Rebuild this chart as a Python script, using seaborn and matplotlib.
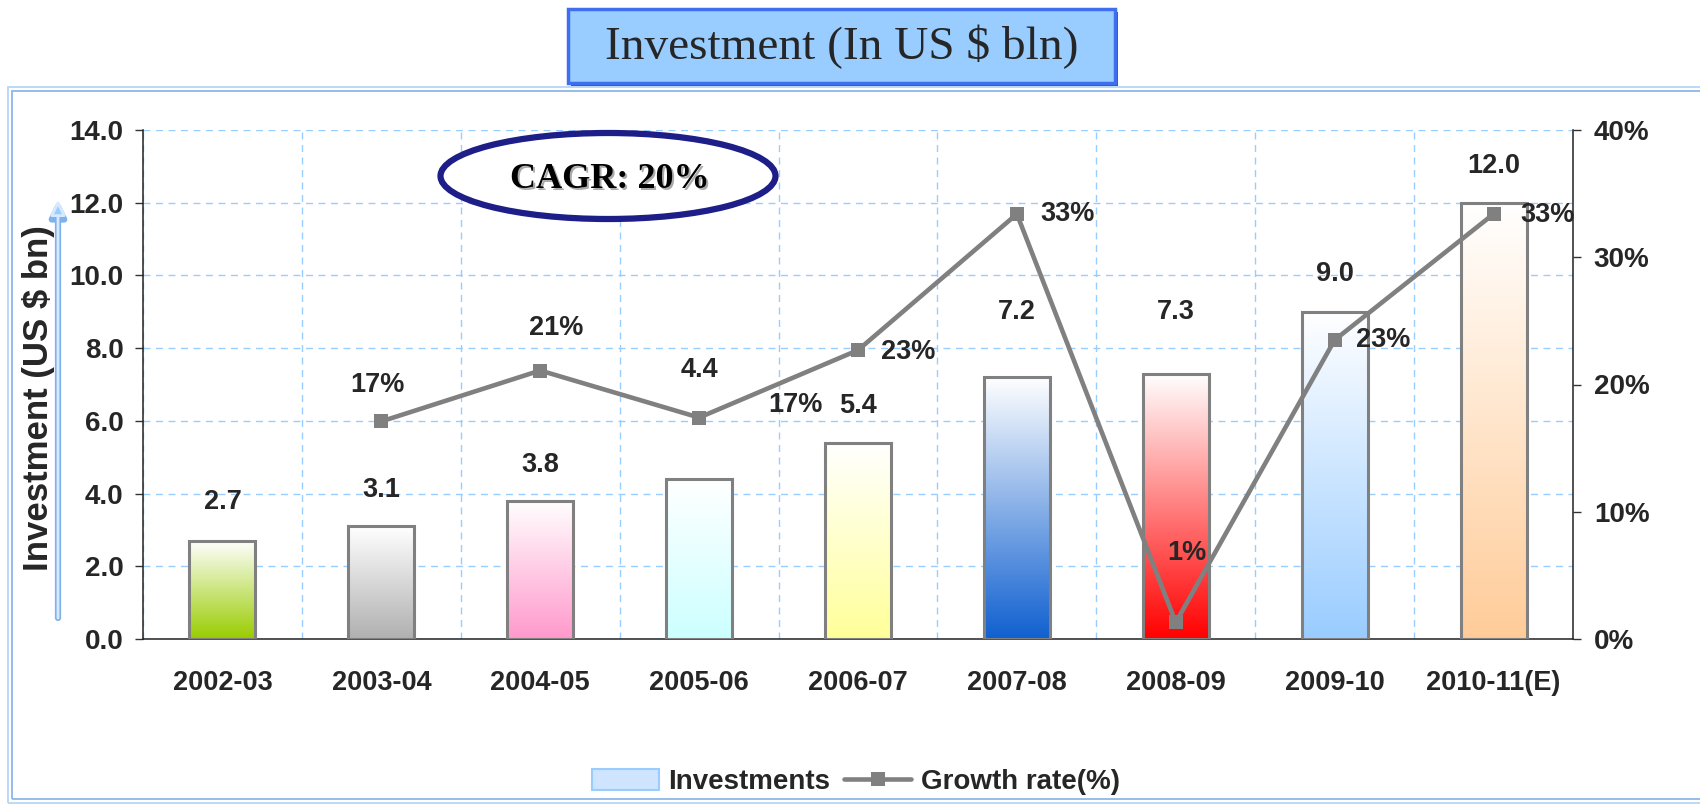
import matplotlib as mpl
mpl.use('agg')
import matplotlib.pyplot as plt
import matplotlib.patches as mpatches
from matplotlib.lines import Line2D
from matplotlib.colors import to_rgb
import numpy as np
import seaborn as sns

# data
years = ['2002-03', '2003-04', '2004-05', '2005-06', '2006-07',
         '2007-08', '2008-09', '2009-10', '2010-11(E)']
investment = [2.7, 3.1, 3.8, 4.4, 5.4, 7.2, 7.3, 9.0, 12.0]
growth_years = ['2003-04', '2004-05', '2005-06', '2006-07',
                '2007-08', '2008-09', '2009-10', '2010-11(E)']
growth = [17.1, 21.1, 17.4, 22.7, 33.4, 1.3, 23.5, 33.4]
growth_labels = ['17%', '21%', '17%', '23%', '33%', '1%', '23%', '33%']
bar_colors = ['#99cc00', '#b0b0b0', '#ff99cc', '#ccffff', '#ffff99',
              '#1060d0', '#ff0000', '#99ccff', '#ffcc99']
left_ticks = [0, 2, 4, 6, 8, 10, 12, 14]
right_ticks = [0, 10, 20, 30, 40]

# label offsets in pixels (dx, dy)
bar_label_dy = [39, 36, 36, 109, 37, 65, 62, 38, 37]
growth_label_off = [(-4, 36), (16, 43), (96, 13), (50, -2), (51, 0),
                    (11, 69), (49, 0), (54, -1)]

sns.set_style('white')
plt.rcParams['font.family'] = ['Liberation Sans', 'DejaVu Sans']
plt.rcParams['font.weight'] = 'bold'

W, H = 1700, 806
FS = 19.5
fig = plt.figure(figsize=(W / 100, H / 100), dpi=100)
fig.patch.set_facecolor('white')

def px(x0, y0, x1, y1):
    # pixel box (from top-left) -> figure fraction rect
    return [x0 / W, 1 - y1 / H, (x1 - x0) / W, (y1 - y0) / H]

ax = fig.add_axes(px(143, 130, 1573, 639))
ax.set_facecolor('none')

# outer frame
for off, c in [(0, '#b8d6f5'), (4, '#8cb8e8')]:
    fig.add_artist(mpatches.Rectangle(((8 + off) / W, (3 + off) / H),
                                      (1720 - 8) / W, (H - 87 - 3 - 2 * off) / H,
                                      transform=fig.transFigure, fill=False,
                                      edgecolor=c, lw=1.3, zorder=0))

# bars
sns.barplot(x=years, y=investment, ax=ax, color='white', width=0.415,
            edgecolor='#808080', linewidth=2.2, saturation=1)
ax.set_xlim(-0.5, len(years) - 0.5)
ax.set_ylim(0, 14)
for patch, col in zip(ax.patches, bar_colors):
    patch.set_facecolor('none')
    patch.set_zorder(3)
    x0, y0 = patch.get_x(), patch.get_y()
    w, h = patch.get_width(), patch.get_height()
    c = np.array(to_rgb(col))
    t = np.linspace(0, 1, 256)[:, None]
    grad = (1 - t) * c + t * np.ones(3)
    img = ax.imshow(grad[:, None, :].repeat(2, axis=1), extent=[x0, x0 + w, y0, y0 + h],
                    origin='lower', aspect='auto', zorder=2.5, interpolation='bilinear')
    img.set_clip_path(patch)
ax.set_xlim(-0.5, len(years) - 0.5)
ax.set_ylim(0, 14)

# grid
ax.set_axisbelow(True)
ax.set_yticks(left_ticks)
ax.set_yticklabels([f'{v:.1f}' for v in left_ticks])
ax.set_xticks(np.arange(-0.5, len(years), 1.0), minor=True)
ax.grid(axis='y', which='major', color='#99ccff', ls=(0, (5, 4)), lw=1)
ax.grid(axis='x', which='minor', color='#99ccff', ls=(0, (5, 4)), lw=1)
ax.grid(axis='x', which='major', visible=False)
ax.tick_params(axis='x', which='major', length=0, pad=22, labelsize=FS)
ax.tick_params(axis='x', which='minor', length=6, width=1, color='#333333', direction='out')
ax.tick_params(axis='y', length=6, width=1, color='#333333', direction='out', pad=8,
               labelsize=FS + 0.5, left=True)
for s in ['left', 'bottom']:
    ax.spines[s].set_color('#222222')
    ax.spines[s].set_linewidth(1.1)
ax.spines['top'].set_visible(False)
ax.spines['right'].set_visible(False)
ax.set_xlabel('')
ax.set_ylabel('Investment (US $ bn)', fontsize=25, fontweight='bold')
ax.yaxis.set_label_coords(-0.0615, 0.473)

for i, (v, dy) in enumerate(zip(investment, bar_label_dy)):
    ax.annotate(f'{v:.1f}', xy=(i, v), xytext=(0, dy * 0.72), textcoords='offset points',
                ha='center', va='center', fontsize=FS, fontweight='bold', zorder=6)

# growth line
ax2 = ax.twinx()
gx = [years.index(y) for y in growth_years]
sns.lineplot(x=gx, y=growth, ax=ax2, color='#808080', lw=3.3, marker='s',
             markersize=10, markeredgewidth=0, zorder=5)
ax2.set_ylim(0, 40)
ax2.set_xlim(-0.5, len(years) - 0.5)
ax2.set_yticks(right_ticks)
ax2.set_yticklabels([f'{v}%' for v in right_ticks])
ax2.tick_params(axis='y', length=6, width=1, color='#333333', direction='out', pad=9,
                labelsize=FS + 0.5, right=True)
for s in ['left', 'top', 'bottom']:
    ax2.spines[s].set_visible(False)
ax2.spines['right'].set_color('#222222')
ax2.spines['right'].set_linewidth(1.1)
ax2.set_ylabel('')
ax2.grid(False)
for x, v, lab, (dx, dy) in zip(gx, growth, growth_labels, growth_label_off):
    ax2.annotate(lab, xy=(x, v), xytext=(dx * 0.72, dy * 0.72), textcoords='offset points',
                 ha='center', va='center', fontsize=FS, fontweight='bold', zorder=6)

# y-label arrow (hollow look)
for lw, col in [(4.5, '#7fb2ea'), (2, '#d6e9ff')]:
    ax.annotate('', xy=(58, H - 200), xytext=(58, H - 618), xycoords='figure pixels',
                textcoords='figure pixels',
                arrowprops=dict(arrowstyle='-|>,head_width=0.45,head_length=0.9',
                                facecolor='#99ccff', edgecolor=col, lw=lw,
                                shrinkA=0, shrinkB=0))

# CAGR ellipse
ell = mpatches.Ellipse((608 / W, 1 - 176 / H), 335 / W, 86 / H, transform=fig.transFigure,
                       facecolor='white', edgecolor='#1e1e88', lw=4.5, zorder=4)
fig.add_artist(ell)
fig.text(612 / W, 1 - 182 / H, 'CAGR: 20%', ha='center', va='center', fontsize=26,
         fontweight='bold', family='Liberation Serif', color='#aaaaaa', zorder=5)
fig.text(610 / W, 1 - 180 / H, 'CAGR: 20%', ha='center', va='center', fontsize=26,
         fontweight='bold', family='Liberation Serif', color='black', zorder=6)

# title box
sh = px(571, 12, 1118, 86)
fig.add_artist(mpatches.Rectangle((sh[0], sh[1]), sh[2], sh[3],
                                  transform=fig.transFigure, facecolor='#3355cc',
                                  edgecolor='none', zorder=4))
tb = px(568, 9, 1115, 83)
fig.add_artist(mpatches.Rectangle((tb[0], tb[1]), tb[2], tb[3],
                                  transform=fig.transFigure, facecolor='#99ccff',
                                  edgecolor='#3f6fef', lw=2.5, zorder=5))
fig.text(842 / W, 1 - 47 / H, 'Investment (In US $ bln)', ha='center', va='center',
         fontsize=34, fontweight='normal', family='Liberation Serif', zorder=6)

# legend
handles = [mpatches.Patch(facecolor='#cfe5ff', edgecolor='#99ccff', lw=1.5),
           Line2D([], [], color='#808080', lw=3.3, marker='s', markersize=10,
                  markeredgewidth=0)]
fig.legend(handles, ['Investments', 'Growth rate(%)'], loc='center',
           bbox_to_anchor=(856 / W, 24 / H), ncol=2, frameon=False,
           prop={'weight': 'bold', 'size': 20}, handlelength=2.4, handleheight=0.8,
           columnspacing=0.5, handletextpad=0.35)

plt.savefig('out.png', dpi=100)
